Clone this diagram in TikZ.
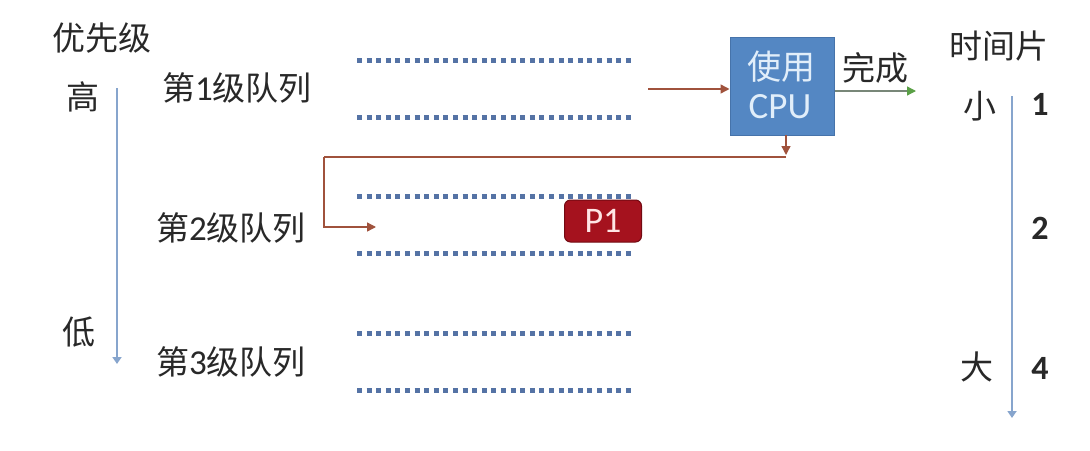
\documentclass[tikz,border=0pt]{standalone}
\usepackage{fontspec}
\setmainfont{Carlito}
\newfontfamily\cjk{Noto Sans CJK SC}
\usetikzlibrary{arrows.meta}
\definecolor{txt}{RGB}{40,40,40}
\definecolor{axis}{RGB}{135,165,205}
\definecolor{dots}{RGB}{85,115,165}
\definecolor{brn}{RGB}{160,82,60}
\definecolor{cpufill}{RGB}{84,135,195}
\definecolor{cpudraw}{RGB}{70,115,170}
\definecolor{cputxt}{RGB}{225,238,250}
\definecolor{pfill}{RGB}{165,18,30}
\definecolor{pdraw}{RGB}{115,10,18}
\definecolor{grn}{RGB}{90,160,70}
\definecolor{gline}{RGB}{120,135,120}
\tikzset{
  zh/.style={text=txt, inner sep=0pt, font=\cjk\fontsize{33}{36}\selectfont},
  num/.style={text=txt, inner sep=0pt, font=\bfseries\fontsize{34}{36}\selectfont},
  axisarrow/.style={draw=axis, line width=1.8pt, -{Triangle[width=9pt,length=7pt]}},
  dotline/.style={draw=dots, line width=5pt, dash pattern=on 5pt off 4.6pt},
  brnarrow/.style={draw=brn, line width=1.4pt, -{Triangle[width=9pt,length=9pt]}},
  cpubox/.style={fill=cpufill, draw=cpudraw, line width=1pt, minimum width=104pt, minimum height=98pt, inner sep=0pt},
  pbox/.style={fill=pfill, draw=pdraw, line width=1pt, rounded corners=6pt, minimum width=77pt, minimum height=42pt, inner sep=0pt, text=red!10!white, font=\fontsize{36}{38}\selectfont}
}
\begin{document}
\begin{tikzpicture}[x=1pt,y=-1pt]
\useasboundingbox[fill=white] (0,0) rectangle (1090,450);
% left priority axis
\node[zh] (prio) at (102,38) {优先级};
\node[zh] (high) at (83,97) {高};
\node[zh] (low) at (79,332) {低};
\coordinate (pa1) at (117,88);
\coordinate (pa2) at (117,364);
\draw[axisarrow] (pa1) -- (pa2);
% queue labels
\node[zh] (l1) at (237,88) {第{\fontspec{Carlito}\fontsize{35}{36}\selectfont 1}级队列};
\node[zh] (l2) at (231,228) {第{\fontspec{Carlito}\fontsize{35}{36}\selectfont 2}级队列};
\node[zh] (l3) at (231,362) {第{\fontspec{Carlito}\fontsize{35}{36}\selectfont 3}级队列};
% dotted queues
\foreach \y/\n in {60/a,117/b,196/c,253/d,333/e,390/f}{
  \coordinate (d\n1) at (357,\y);
  \coordinate (d\n2) at (634,\y);
  \draw[dotline] (d\n1) -- (d\n2);
}
% CPU
\node[cpubox] (cpu) at (782,86) {};
\node[text=cputxt, inner sep=0pt, font=\cjk\fontsize{34}{36}\selectfont] (use) at (781,67) {使用};
\node[text=cputxt, inner sep=0pt, font=\fontsize{37}{38}\selectfont] (cputext) at (780,107) {CPU};
% input arrow
\coordinate (in1) at (648,89);
\draw[brnarrow] (in1) -- (in1 -| cpu.west);
% output arrow
\coordinate (outend) at (916,91);
\draw[gline, line width=1.3pt, -{Triangle[width=9pt,length=9pt,color=grn]}] (cpu.east |- outend) -- (outend);
\node[zh] (done) at (875,68) {完成};
% feedback
\coordinate (fb0) at (786,135);
\coordinate (fb1) at (786,155);
\coordinate (fb1b) at (786,157);
\coordinate (fb2) at (324,157);
\coordinate (fb3) at (376,227);
\draw[brnarrow] (fb0) -- (fb1);
\draw[brn, line width=1.4pt] (fb1b) -- (fb2);
\draw[brnarrow] (fb2) |- (fb3);
% P1
\node[pbox] (p1) at (603,221) {P1};
% right time axis
\node[zh] (slice) at (999,46) {时间片};
\node[zh] (small) at (980,106) {小};
\node[zh] (big) at (977,367) {大};
\node[num] (n1) at (1040,104) {1};
\node[num] (n2) at (1040,228) {2};
\node[num] (n4) at (1040,368) {4};
\coordinate (ta1) at (1012,96);
\coordinate (ta2) at (1012,418);
\draw[axisarrow] (ta1) -- (ta2);
\end{tikzpicture}
\end{document}
